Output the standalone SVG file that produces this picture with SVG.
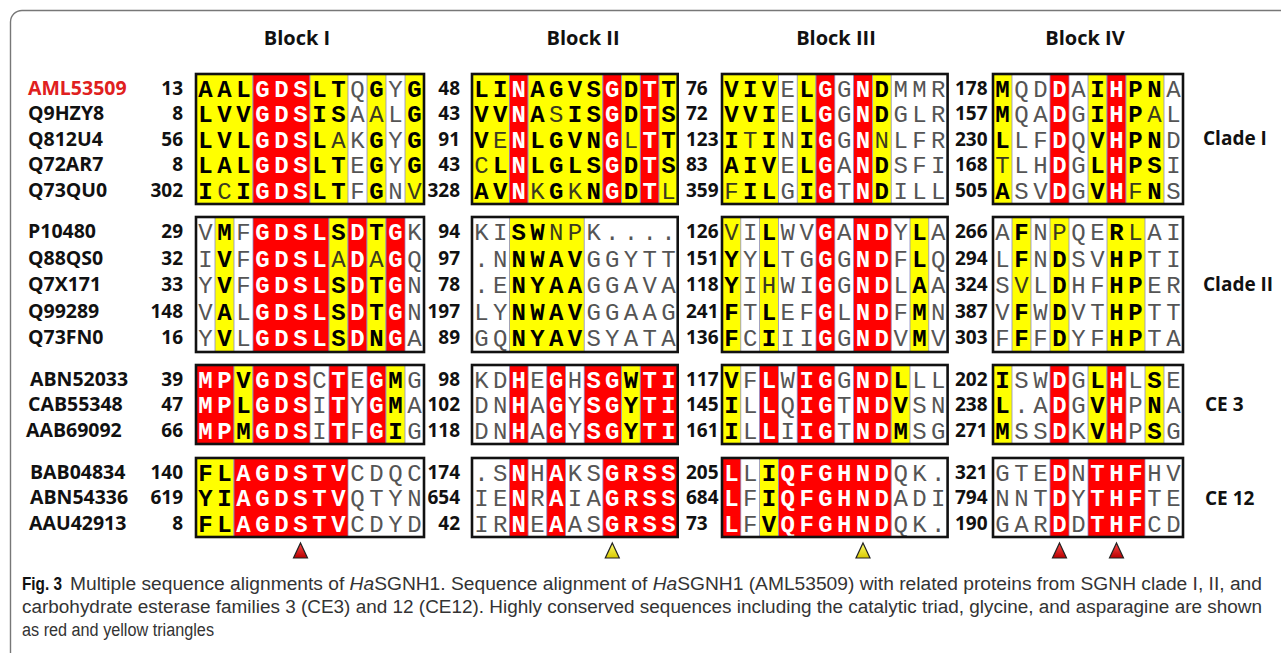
<svg xmlns="http://www.w3.org/2000/svg" width="1281" height="653" viewBox="0 0 1281 653">
<style>
  .sq{font-family:"Liberation Mono","DejaVu Sans Mono",monospace;font-size:24px;text-anchor:middle}
  .k{font-weight:700;fill:#000}
  .n{font-weight:400;fill:#3a3a20}
  .w{font-weight:700;fill:#fff}
  .g{font-weight:400;fill:#555}
  .lbl{font-family:"Open Sans","Liberation Sans",sans-serif;font-weight:700;font-size:19px;fill:#111}
  .nm{font-size:19.5px}
  .end{text-anchor:end}
  .hd{font-family:"Open Sans","Liberation Sans",sans-serif;font-weight:700;font-size:20px;fill:#111;text-anchor:middle}
  .cl{font-family:"Open Sans","Liberation Sans",sans-serif;font-weight:700;font-size:19px;fill:#111}
  .Y{fill:#ffff00;stroke:#8c8cc8;stroke-width:.8}
  .R{fill:#ff0000;stroke:#8c8cc8;stroke-width:.8}
  .bg{fill:#fff}
  .frame{fill:none;stroke:#111;stroke-width:2.6}
  .cap{font-family:"Liberation Sans","Open Sans",sans-serif;font-size:18px;fill:#333}
  .tr{stroke:#222;stroke-width:1.2}
</style>
<defs>
  <linearGradient id="gR" x1="0" y1="0" x2="0" y2="1"><stop offset="0" stop-color="#ff4a4a"/><stop offset="1" stop-color="#b80000"/></linearGradient>
  <linearGradient id="gY" x1="0" y1="0" x2="0" y2="1"><stop offset="0" stop-color="#ffff70"/><stop offset="1" stop-color="#d8c800"/></linearGradient>
  <path id="tri" d="M0,-8 L7,7 L-7,7 Z"/>
</defs>
<rect width="1281" height="653" fill="#fff"/>
<!-- panel outline: rounded top-left corner, open to the right and bottom -->
<path d="M10.5,653 V22 A11.5,11.5 0 0 1 22,10.5 H1281" fill="none" stroke="#777" stroke-width="1.4"/>

<!-- column headers -->
<g id="headers">
  <text class="hd" x="297" y="45">Block I</text>
  <text class="hd" x="583" y="45">Block II</text>
  <text class="hd" x="836" y="45">Block III</text>
  <text class="hd" x="1085" y="45">Block IV</text>
</g>

<!-- sequence names -->
<g id="names" class="lbl nm">
  <text x="28" y="94.5" style="fill:#e02020">AML53509</text>
  <text x="28" y="120">Q9HZY8</text>
  <text x="28" y="145.5">Q812U4</text>
  <text x="28" y="171">Q72AR7</text>
  <text x="28" y="196.5">Q73QU0</text>
  <text x="28" y="238">P10480</text>
  <text x="28" y="264.5">Q88QS0</text>
  <text x="28" y="291">Q7X171</text>
  <text x="28" y="317.5">Q99289</text>
  <text x="28" y="344">Q73FN0</text>
  <text x="30" y="385.5">ABN52033</text>
  <text x="28" y="411">CAB55348</text>
  <text x="26" y="436.5">AAB69092</text>
  <text x="30" y="478.5">BAB04834</text>
  <text x="30" y="504">ABN54336</text>
  <text x="29" y="529.5">AAU42913</text>
</g>

<!-- group labels -->
<g id="groups" class="cl">
  <text x="1203" y="145">Clade I</text>
  <text x="1203" y="291">Clade II</text>
  <text x="1205" y="411">CE 3</text>
  <text x="1205" y="505">CE 12</text>
</g>

<!-- Block I -->
<g id="block1">
  <g id="b1-clade1">
    <rect class="bg" x="196" y="74" width="228" height="130"/>
    <rect class="Y" x="196" y="74" width="57" height="130"/>
    <rect class="R" x="253" y="74" width="57" height="130"/>
    <rect class="Y" x="310" y="74" width="38" height="130"/>
    <rect class="Y" x="367" y="74" width="19" height="130"/>
    <rect class="Y" x="405" y="74" width="19" height="130"/>
    <g class="sq">
      <text x="205.5 224.5 243.5 262.5 281.5 300.5 319.5 338.5 357.5 376.5 395.5 414.5" y="96.5"><tspan class="k">AAL</tspan><tspan class="w">GDS</tspan><tspan class="k">LT</tspan><tspan class="g">Q</tspan><tspan class="k">G</tspan><tspan class="g">Y</tspan><tspan class="k">G</tspan></text>
      <text x="205.5 224.5 243.5 262.5 281.5 300.5 319.5 338.5 357.5 376.5 395.5 414.5" y="122"><tspan class="k">LVV</tspan><tspan class="w">GDS</tspan><tspan class="k">IS</tspan><tspan class="g">A</tspan><tspan class="n">A</tspan><tspan class="g">L</tspan><tspan class="k">G</tspan></text>
      <text x="205.5 224.5 243.5 262.5 281.5 300.5 319.5 338.5 357.5 376.5 395.5 414.5" y="147.5"><tspan class="k">LVL</tspan><tspan class="w">GDS</tspan><tspan class="k">L</tspan><tspan class="n">A</tspan><tspan class="g">K</tspan><tspan class="k">G</tspan><tspan class="g">Y</tspan><tspan class="k">G</tspan></text>
      <text x="205.5 224.5 243.5 262.5 281.5 300.5 319.5 338.5 357.5 376.5 395.5 414.5" y="173"><tspan class="k">LAL</tspan><tspan class="w">GDS</tspan><tspan class="k">LT</tspan><tspan class="g">E</tspan><tspan class="k">G</tspan><tspan class="g">Y</tspan><tspan class="k">G</tspan></text>
      <text x="205.5 224.5 243.5 262.5 281.5 300.5 319.5 338.5 357.5 376.5 395.5 414.5" y="198.5"><tspan class="k">I</tspan><tspan class="n">C</tspan><tspan class="k">I</tspan><tspan class="w">GDS</tspan><tspan class="k">LT</tspan><tspan class="g">F</tspan><tspan class="k">G</tspan><tspan class="g">N</tspan><tspan class="n">V</tspan></text>
    </g>
    <rect class="frame" x="196" y="74" width="228" height="130"/>
  </g>
  <g id="b1-clade2">
    <rect class="bg" x="196" y="217" width="228" height="135"/>
    <rect class="Y" x="215" y="217" width="19" height="135"/>
    <rect class="R" x="253" y="217" width="76" height="135"/>
    <rect class="Y" x="329" y="217" width="19" height="135"/>
    <rect class="R" x="348" y="217" width="19" height="135"/>
    <rect class="Y" x="367" y="217" width="19" height="135"/>
    <rect class="R" x="386" y="217" width="19" height="135"/>
    <g class="sq">
      <text x="205.5 224.5 243.5 262.5 281.5 300.5 319.5 338.5 357.5 376.5 395.5 414.5" y="240"><tspan class="g">V</tspan><tspan class="k">M</tspan><tspan class="g">F</tspan><tspan class="w">GDSL</tspan><tspan class="k">S</tspan><tspan class="w">D</tspan><tspan class="k">T</tspan><tspan class="w">G</tspan><tspan class="g">K</tspan></text>
      <text x="205.5 224.5 243.5 262.5 281.5 300.5 319.5 338.5 357.5 376.5 395.5 414.5" y="266.5"><tspan class="g">I</tspan><tspan class="k">V</tspan><tspan class="g">F</tspan><tspan class="w">GDSL</tspan><tspan class="n">A</tspan><tspan class="w">D</tspan><tspan class="n">A</tspan><tspan class="w">G</tspan><tspan class="g">Q</tspan></text>
      <text x="205.5 224.5 243.5 262.5 281.5 300.5 319.5 338.5 357.5 376.5 395.5 414.5" y="293"><tspan class="g">Y</tspan><tspan class="k">V</tspan><tspan class="g">F</tspan><tspan class="w">GDSL</tspan><tspan class="k">S</tspan><tspan class="w">D</tspan><tspan class="k">T</tspan><tspan class="w">G</tspan><tspan class="g">N</tspan></text>
      <text x="205.5 224.5 243.5 262.5 281.5 300.5 319.5 338.5 357.5 376.5 395.5 414.5" y="319.5"><tspan class="g">V</tspan><tspan class="k">A</tspan><tspan class="g">L</tspan><tspan class="w">GDSL</tspan><tspan class="k">S</tspan><tspan class="w">D</tspan><tspan class="k">T</tspan><tspan class="w">G</tspan><tspan class="g">N</tspan></text>
      <text x="205.5 224.5 243.5 262.5 281.5 300.5 319.5 338.5 357.5 376.5 395.5 414.5" y="346"><tspan class="g">Y</tspan><tspan class="k">V</tspan><tspan class="g">L</tspan><tspan class="w">GDSL</tspan><tspan class="k">S</tspan><tspan class="w">D</tspan><tspan class="k">N</tspan><tspan class="w">G</tspan><tspan class="g">A</tspan></text>
    </g>
    <rect class="frame" x="196" y="217" width="228" height="135"/>
  </g>
  <g id="b1-ce3">
    <rect class="bg" x="196" y="365" width="228" height="79"/>
    <rect class="R" x="196" y="365" width="38" height="79"/>
    <rect class="Y" x="234" y="365" width="19" height="79"/>
    <rect class="R" x="253" y="365" width="57" height="79"/>
    <rect class="R" x="329" y="365" width="19" height="79"/>
    <rect class="R" x="367" y="365" width="19" height="79"/>
    <rect class="Y" x="386" y="365" width="19" height="79"/>
    <g class="sq">
      <text x="205.5 224.5 243.5 262.5 281.5 300.5 319.5 338.5 357.5 376.5 395.5 414.5" y="387.5"><tspan class="w">MP</tspan><tspan class="k">V</tspan><tspan class="w">GDS</tspan><tspan class="g">C</tspan><tspan class="w">T</tspan><tspan class="g">E</tspan><tspan class="w">G</tspan><tspan class="k">M</tspan><tspan class="g">G</tspan></text>
      <text x="205.5 224.5 243.5 262.5 281.5 300.5 319.5 338.5 357.5 376.5 395.5 414.5" y="413"><tspan class="w">MP</tspan><tspan class="k">L</tspan><tspan class="w">GDS</tspan><tspan class="g">I</tspan><tspan class="w">T</tspan><tspan class="g">Y</tspan><tspan class="w">G</tspan><tspan class="k">M</tspan><tspan class="g">A</tspan></text>
      <text x="205.5 224.5 243.5 262.5 281.5 300.5 319.5 338.5 357.5 376.5 395.5 414.5" y="438.5"><tspan class="w">MP</tspan><tspan class="k">M</tspan><tspan class="w">GDS</tspan><tspan class="g">I</tspan><tspan class="w">T</tspan><tspan class="g">F</tspan><tspan class="w">G</tspan><tspan class="k">I</tspan><tspan class="g">G</tspan></text>
    </g>
    <rect class="frame" x="196" y="365" width="228" height="79"/>
  </g>
  <g id="b1-ce12">
    <rect class="bg" x="196" y="458" width="228" height="79"/>
    <rect class="Y" x="196" y="458" width="38" height="79"/>
    <rect class="R" x="234" y="458" width="114" height="79"/>
    <g class="sq">
      <text x="205.5 224.5 243.5 262.5 281.5 300.5 319.5 338.5 357.5 376.5 395.5 414.5" y="480.5"><tspan class="k">FL</tspan><tspan class="w">AGDSTV</tspan><tspan class="g">CDQC</tspan></text>
      <text x="205.5 224.5 243.5 262.5 281.5 300.5 319.5 338.5 357.5 376.5 395.5 414.5" y="506"><tspan class="k">YI</tspan><tspan class="w">AGDSTV</tspan><tspan class="g">QTYN</tspan></text>
      <text x="205.5 224.5 243.5 262.5 281.5 300.5 319.5 338.5 357.5 376.5 395.5 414.5" y="531.5"><tspan class="k">FL</tspan><tspan class="w">AGDSTV</tspan><tspan class="g">CDYD</tspan></text>
    </g>
    <rect class="frame" x="196" y="458" width="228" height="79"/>
  </g>
  <g class="lbl end">
    <text x="183" y="94.5">13</text><text x="183" y="120">8</text><text x="183" y="145.5">56</text><text x="183" y="171">8</text><text x="183" y="196.5">302</text>
    <text x="183" y="238">29</text><text x="183" y="264.5">32</text><text x="183" y="291">33</text><text x="183" y="317.5">148</text><text x="183" y="344">16</text>
    <text x="183" y="385.5">39</text><text x="183" y="411">47</text><text x="183" y="436.5">66</text>
    <text x="183" y="478.5">140</text><text x="183" y="504">619</text><text x="183" y="529.5">8</text>
  </g>
</g>

<!-- Block II -->
<g id="block2">
  <g id="b2-clade1">
    <rect class="bg" x="472" y="74" width="205.7" height="130"/>
    <rect class="Y" x="472" y="74" width="37.4" height="130"/>
    <rect class="R" x="509.4" y="74" width="18.7" height="130"/>
    <rect class="Y" x="528.1" y="74" width="74.8" height="130"/>
    <rect class="R" x="602.9" y="74" width="18.7" height="130"/>
    <rect class="Y" x="621.6" y="74" width="18.7" height="130"/>
    <rect class="R" x="640.3" y="74" width="18.7" height="130"/>
    <rect class="Y" x="659" y="74" width="18.7" height="130"/>
    <g class="sq">
      <text x="481.4 500.1 518.8 537.5 556.2 574.9 593.6 612.3 631 649.7 668.4" y="96.5"><tspan class="k">LI</tspan><tspan class="w">N</tspan><tspan class="k">AGVS</tspan><tspan class="w">G</tspan><tspan class="k">D</tspan><tspan class="w">T</tspan><tspan class="k">T</tspan></text>
      <text x="481.4 500.1 518.8 537.5 556.2 574.9 593.6 612.3 631 649.7 668.4" y="122"><tspan class="k">VV</tspan><tspan class="w">N</tspan><tspan class="k">A</tspan><tspan class="n">S</tspan><tspan class="k">IS</tspan><tspan class="w">G</tspan><tspan class="k">D</tspan><tspan class="w">T</tspan><tspan class="k">S</tspan></text>
      <text x="481.4 500.1 518.8 537.5 556.2 574.9 593.6 612.3 631 649.7 668.4" y="147.5"><tspan class="k">V</tspan><tspan class="n">E</tspan><tspan class="w">N</tspan><tspan class="k">LGVN</tspan><tspan class="w">G</tspan><tspan class="n">L</tspan><tspan class="w">T</tspan><tspan class="k">T</tspan></text>
      <text x="481.4 500.1 518.8 537.5 556.2 574.9 593.6 612.3 631 649.7 668.4" y="173"><tspan class="n">C</tspan><tspan class="k">L</tspan><tspan class="w">N</tspan><tspan class="k">LGLS</tspan><tspan class="w">G</tspan><tspan class="k">D</tspan><tspan class="w">T</tspan><tspan class="k">S</tspan></text>
      <text x="481.4 500.1 518.8 537.5 556.2 574.9 593.6 612.3 631 649.7 668.4" y="198.5"><tspan class="k">AV</tspan><tspan class="w">N</tspan><tspan class="n">K</tspan><tspan class="k">G</tspan><tspan class="n">K</tspan><tspan class="k">N</tspan><tspan class="w">G</tspan><tspan class="k">D</tspan><tspan class="w">T</tspan><tspan class="n">L</tspan></text>
    </g>
    <rect class="frame" x="472" y="74" width="205.7" height="130"/>
  </g>
  <g id="b2-clade2">
    <rect class="bg" x="472" y="217" width="205.7" height="135"/>
    <rect class="Y" x="509.4" y="217" width="74.8" height="135"/>
    <g class="sq">
      <text x="481.4 500.1 518.8 537.5 556.2 574.9 593.6 612.3 631 649.7 668.4" y="240"><tspan class="g">KI</tspan><tspan class="k">SW</tspan><tspan class="n">NP</tspan><tspan class="g">K....</tspan></text>
      <text x="481.4 500.1 518.8 537.5 556.2 574.9 593.6 612.3 631 649.7 668.4" y="266.5"><tspan class="g">.N</tspan><tspan class="k">NWAV</tspan><tspan class="g">GGYTT</tspan></text>
      <text x="481.4 500.1 518.8 537.5 556.2 574.9 593.6 612.3 631 649.7 668.4" y="293"><tspan class="g">.E</tspan><tspan class="k">NYAA</tspan><tspan class="g">GGAVA</tspan></text>
      <text x="481.4 500.1 518.8 537.5 556.2 574.9 593.6 612.3 631 649.7 668.4" y="319.5"><tspan class="g">LY</tspan><tspan class="k">NWAV</tspan><tspan class="g">GGAAG</tspan></text>
      <text x="481.4 500.1 518.8 537.5 556.2 574.9 593.6 612.3 631 649.7 668.4" y="346"><tspan class="g">GQ</tspan><tspan class="k">NYAV</tspan><tspan class="g">SYATA</tspan></text>
    </g>
    <rect class="frame" x="472" y="217" width="205.7" height="135"/>
  </g>
  <g id="b2-ce3">
    <rect class="bg" x="472" y="365" width="205.7" height="79"/>
    <rect class="R" x="509.4" y="365" width="18.7" height="79"/>
    <rect class="R" x="546.8" y="365" width="18.7" height="79"/>
    <rect class="R" x="584.2" y="365" width="37.4" height="79"/>
    <rect class="Y" x="621.6" y="365" width="18.7" height="79"/>
    <rect class="R" x="640.3" y="365" width="37.4" height="79"/>
    <g class="sq">
      <text x="481.4 500.1 518.8 537.5 556.2 574.9 593.6 612.3 631 649.7 668.4" y="387.5"><tspan class="g">KD</tspan><tspan class="w">H</tspan><tspan class="g">E</tspan><tspan class="w">G</tspan><tspan class="g">H</tspan><tspan class="w">SG</tspan><tspan class="k">W</tspan><tspan class="w">TI</tspan></text>
      <text x="481.4 500.1 518.8 537.5 556.2 574.9 593.6 612.3 631 649.7 668.4" y="413"><tspan class="g">DN</tspan><tspan class="w">H</tspan><tspan class="g">A</tspan><tspan class="w">G</tspan><tspan class="g">Y</tspan><tspan class="w">SG</tspan><tspan class="k">Y</tspan><tspan class="w">TI</tspan></text>
      <text x="481.4 500.1 518.8 537.5 556.2 574.9 593.6 612.3 631 649.7 668.4" y="438.5"><tspan class="g">DN</tspan><tspan class="w">H</tspan><tspan class="g">A</tspan><tspan class="w">G</tspan><tspan class="g">Y</tspan><tspan class="w">SG</tspan><tspan class="k">Y</tspan><tspan class="w">TI</tspan></text>
    </g>
    <rect class="frame" x="472" y="365" width="205.7" height="79"/>
  </g>
  <g id="b2-ce12">
    <rect class="bg" x="472" y="458" width="205.7" height="79"/>
    <rect class="R" x="509.4" y="458" width="18.7" height="79"/>
    <rect class="R" x="546.8" y="458" width="18.7" height="79"/>
    <rect class="R" x="602.9" y="458" width="74.8" height="79"/>
    <g class="sq">
      <text x="481.4 500.1 518.8 537.5 556.2 574.9 593.6 612.3 631 649.7 668.4" y="480.5"><tspan class="g">.S</tspan><tspan class="w">N</tspan><tspan class="g">H</tspan><tspan class="w">A</tspan><tspan class="g">KS</tspan><tspan class="w">GRSS</tspan></text>
      <text x="481.4 500.1 518.8 537.5 556.2 574.9 593.6 612.3 631 649.7 668.4" y="506"><tspan class="g">IE</tspan><tspan class="w">N</tspan><tspan class="g">R</tspan><tspan class="w">A</tspan><tspan class="g">IA</tspan><tspan class="w">GRSS</tspan></text>
      <text x="481.4 500.1 518.8 537.5 556.2 574.9 593.6 612.3 631 649.7 668.4" y="531.5"><tspan class="g">IR</tspan><tspan class="w">N</tspan><tspan class="g">E</tspan><tspan class="w">A</tspan><tspan class="g">AS</tspan><tspan class="w">GRSS</tspan></text>
    </g>
    <rect class="frame" x="472" y="458" width="205.7" height="79"/>
  </g>
  <g class="lbl end">
    <text x="460" y="94.5">48</text><text x="460" y="120">43</text><text x="460" y="145.5">91</text><text x="460" y="171">43</text><text x="460" y="196.5">328</text>
    <text x="460" y="238">94</text><text x="460" y="264.5">97</text><text x="460" y="291">78</text><text x="460" y="317.5">197</text><text x="460" y="344">89</text>
    <text x="460" y="385.5">98</text><text x="460" y="411">102</text><text x="460" y="436.5">118</text>
    <text x="460" y="478.5">174</text><text x="460" y="504">654</text><text x="460" y="529.5">42</text>
  </g>
</g>

<!-- Block III -->
<g id="block3">
  <g id="b3-clade1">
    <rect class="bg" x="722" y="74" width="225.6" height="130"/>
    <rect class="Y" x="722" y="74" width="56.4" height="130"/>
    <rect class="Y" x="797.2" y="74" width="18.8" height="130"/>
    <rect class="R" x="816" y="74" width="18.8" height="130"/>
    <rect class="R" x="853.6" y="74" width="18.8" height="130"/>
    <rect class="Y" x="872.4" y="74" width="18.8" height="130"/>
    <g class="sq">
      <text x="731.4 750.2 769 787.8 806.6 825.4 844.2 863 881.8 900.6 919.4 938.2" y="96.5"><tspan class="k">VIV</tspan><tspan class="g">E</tspan><tspan class="k">L</tspan><tspan class="w">G</tspan><tspan class="g">G</tspan><tspan class="w">N</tspan><tspan class="k">D</tspan><tspan class="g">MMR</tspan></text>
      <text x="731.4 750.2 769 787.8 806.6 825.4 844.2 863 881.8 900.6 919.4 938.2" y="122"><tspan class="k">VVI</tspan><tspan class="g">E</tspan><tspan class="k">L</tspan><tspan class="w">G</tspan><tspan class="g">G</tspan><tspan class="w">N</tspan><tspan class="k">D</tspan><tspan class="g">GLR</tspan></text>
      <text x="731.4 750.2 769 787.8 806.6 825.4 844.2 863 881.8 900.6 919.4 938.2" y="147.5"><tspan class="k">I</tspan><tspan class="n">T</tspan><tspan class="k">I</tspan><tspan class="g">N</tspan><tspan class="k">I</tspan><tspan class="w">G</tspan><tspan class="g">G</tspan><tspan class="w">N</tspan><tspan class="n">N</tspan><tspan class="g">LFR</tspan></text>
      <text x="731.4 750.2 769 787.8 806.6 825.4 844.2 863 881.8 900.6 919.4 938.2" y="173"><tspan class="k">AIV</tspan><tspan class="g">E</tspan><tspan class="k">L</tspan><tspan class="w">G</tspan><tspan class="g">A</tspan><tspan class="w">N</tspan><tspan class="k">D</tspan><tspan class="g">SFI</tspan></text>
      <text x="731.4 750.2 769 787.8 806.6 825.4 844.2 863 881.8 900.6 919.4 938.2" y="198.5"><tspan class="n">F</tspan><tspan class="k">IL</tspan><tspan class="g">G</tspan><tspan class="k">I</tspan><tspan class="w">G</tspan><tspan class="g">T</tspan><tspan class="w">N</tspan><tspan class="k">D</tspan><tspan class="g">ILL</tspan></text>
    </g>
    <rect class="frame" x="722" y="74" width="225.6" height="130"/>
  </g>
  <g id="b3-clade2">
    <rect class="bg" x="722" y="217" width="225.6" height="135"/>
    <rect class="Y" x="722" y="217" width="18.8" height="135"/>
    <rect class="Y" x="759.6" y="217" width="18.8" height="135"/>
    <rect class="R" x="816" y="217" width="18.8" height="135"/>
    <rect class="R" x="853.6" y="217" width="37.6" height="135"/>
    <rect class="Y" x="910" y="217" width="18.8" height="135"/>
    <g class="sq">
      <text x="731.4 750.2 769 787.8 806.6 825.4 844.2 863 881.8 900.6 919.4 938.2" y="240"><tspan class="n">V</tspan><tspan class="g">I</tspan><tspan class="k">L</tspan><tspan class="g">WV</tspan><tspan class="w">G</tspan><tspan class="g">A</tspan><tspan class="w">ND</tspan><tspan class="g">Y</tspan><tspan class="k">L</tspan><tspan class="g">A</tspan></text>
      <text x="731.4 750.2 769 787.8 806.6 825.4 844.2 863 881.8 900.6 919.4 938.2" y="266.5"><tspan class="k">Y</tspan><tspan class="g">Y</tspan><tspan class="k">L</tspan><tspan class="g">TG</tspan><tspan class="w">G</tspan><tspan class="g">G</tspan><tspan class="w">ND</tspan><tspan class="g">F</tspan><tspan class="k">L</tspan><tspan class="g">Q</tspan></text>
      <text x="731.4 750.2 769 787.8 806.6 825.4 844.2 863 881.8 900.6 919.4 938.2" y="293"><tspan class="k">Y</tspan><tspan class="g">I</tspan><tspan class="n">H</tspan><tspan class="g">WI</tspan><tspan class="w">G</tspan><tspan class="g">G</tspan><tspan class="w">ND</tspan><tspan class="g">L</tspan><tspan class="k">A</tspan><tspan class="g">A</tspan></text>
      <text x="731.4 750.2 769 787.8 806.6 825.4 844.2 863 881.8 900.6 919.4 938.2" y="319.5"><tspan class="k">F</tspan><tspan class="g">T</tspan><tspan class="k">L</tspan><tspan class="g">EF</tspan><tspan class="w">G</tspan><tspan class="g">L</tspan><tspan class="w">ND</tspan><tspan class="g">F</tspan><tspan class="k">M</tspan><tspan class="g">N</tspan></text>
      <text x="731.4 750.2 769 787.8 806.6 825.4 844.2 863 881.8 900.6 919.4 938.2" y="346"><tspan class="k">F</tspan><tspan class="g">C</tspan><tspan class="k">I</tspan><tspan class="g">II</tspan><tspan class="w">G</tspan><tspan class="g">G</tspan><tspan class="w">ND</tspan><tspan class="g">V</tspan><tspan class="k">M</tspan><tspan class="g">V</tspan></text>
    </g>
    <rect class="frame" x="722" y="217" width="225.6" height="135"/>
  </g>
  <g id="b3-ce3">
    <rect class="bg" x="722" y="365" width="225.6" height="79"/>
    <rect class="Y" x="722" y="365" width="18.8" height="79"/>
    <rect class="R" x="759.6" y="365" width="18.8" height="79"/>
    <rect class="R" x="797.2" y="365" width="37.6" height="79"/>
    <rect class="R" x="853.6" y="365" width="37.6" height="79"/>
    <rect class="Y" x="891.2" y="365" width="18.8" height="79"/>
    <g class="sq">
      <text x="731.4 750.2 769 787.8 806.6 825.4 844.2 863 881.8 900.6 919.4 938.2" y="387.5"><tspan class="k">V</tspan><tspan class="g">F</tspan><tspan class="w">L</tspan><tspan class="g">W</tspan><tspan class="w">IG</tspan><tspan class="g">G</tspan><tspan class="w">ND</tspan><tspan class="k">L</tspan><tspan class="g">LL</tspan></text>
      <text x="731.4 750.2 769 787.8 806.6 825.4 844.2 863 881.8 900.6 919.4 938.2" y="413"><tspan class="k">I</tspan><tspan class="g">L</tspan><tspan class="w">L</tspan><tspan class="g">Q</tspan><tspan class="w">IG</tspan><tspan class="g">T</tspan><tspan class="w">ND</tspan><tspan class="k">V</tspan><tspan class="g">SN</tspan></text>
      <text x="731.4 750.2 769 787.8 806.6 825.4 844.2 863 881.8 900.6 919.4 938.2" y="438.5"><tspan class="k">I</tspan><tspan class="g">L</tspan><tspan class="w">L</tspan><tspan class="g">I</tspan><tspan class="w">IG</tspan><tspan class="g">T</tspan><tspan class="w">ND</tspan><tspan class="k">M</tspan><tspan class="g">SG</tspan></text>
    </g>
    <rect class="frame" x="722" y="365" width="225.6" height="79"/>
  </g>
  <g id="b3-ce12">
    <rect class="bg" x="722" y="458" width="225.6" height="79"/>
    <rect class="R" x="722" y="458" width="18.8" height="79"/>
    <rect class="Y" x="759.6" y="458" width="18.8" height="79"/>
    <rect class="R" x="778.4" y="458" width="112.8" height="79"/>
    <g class="sq">
      <text x="731.4 750.2 769 787.8 806.6 825.4 844.2 863 881.8 900.6 919.4 938.2" y="480.5"><tspan class="w">L</tspan><tspan class="g">L</tspan><tspan class="k">I</tspan><tspan class="w">QFGHND</tspan><tspan class="g">QK.</tspan></text>
      <text x="731.4 750.2 769 787.8 806.6 825.4 844.2 863 881.8 900.6 919.4 938.2" y="506"><tspan class="w">L</tspan><tspan class="g">F</tspan><tspan class="k">I</tspan><tspan class="w">QFGHND</tspan><tspan class="g">ADI</tspan></text>
      <text x="731.4 750.2 769 787.8 806.6 825.4 844.2 863 881.8 900.6 919.4 938.2" y="531.5"><tspan class="w">L</tspan><tspan class="g">F</tspan><tspan class="k">V</tspan><tspan class="w">QFGHND</tspan><tspan class="g">QK.</tspan></text>
    </g>
    <rect class="frame" x="722" y="458" width="225.6" height="79"/>
  </g>
  <g class="lbl">
    <text x="686" y="94.5">76</text><text x="686" y="120">72</text><text x="686" y="145.5">123</text><text x="686" y="171">83</text><text x="686" y="196.5">359</text>
    <text x="686" y="238">126</text><text x="686" y="264.5">151</text><text x="686" y="291">118</text><text x="686" y="317.5">241</text><text x="686" y="344">136</text>
    <text x="686" y="385.5">117</text><text x="686" y="411">145</text><text x="686" y="436.5">161</text>
    <text x="686" y="478.5">205</text><text x="686" y="504">684</text><text x="686" y="529.5">73</text>
  </g>
</g>

<!-- Block IV -->
<g id="block4">
  <g id="b4-clade1">
    <rect class="bg" x="993" y="74" width="190" height="130"/>
    <rect class="Y" x="993" y="74" width="19" height="130"/>
    <rect class="R" x="1050" y="74" width="19" height="130"/>
    <rect class="Y" x="1088" y="74" width="19" height="130"/>
    <rect class="R" x="1107" y="74" width="19" height="130"/>
    <rect class="Y" x="1126" y="74" width="38" height="130"/>
    <g class="sq">
      <text x="1002.5 1021.5 1040.5 1059.5 1078.5 1097.5 1116.5 1135.5 1154.5 1173.5" y="96.5"><tspan class="k">M</tspan><tspan class="g">QD</tspan><tspan class="w">D</tspan><tspan class="g">A</tspan><tspan class="k">I</tspan><tspan class="w">H</tspan><tspan class="k">PN</tspan><tspan class="g">A</tspan></text>
      <text x="1002.5 1021.5 1040.5 1059.5 1078.5 1097.5 1116.5 1135.5 1154.5 1173.5" y="122"><tspan class="k">M</tspan><tspan class="g">QA</tspan><tspan class="w">D</tspan><tspan class="g">G</tspan><tspan class="k">I</tspan><tspan class="w">H</tspan><tspan class="k">P</tspan><tspan class="n">A</tspan><tspan class="g">L</tspan></text>
      <text x="1002.5 1021.5 1040.5 1059.5 1078.5 1097.5 1116.5 1135.5 1154.5 1173.5" y="147.5"><tspan class="k">L</tspan><tspan class="g">LF</tspan><tspan class="w">D</tspan><tspan class="g">Q</tspan><tspan class="k">V</tspan><tspan class="w">H</tspan><tspan class="k">PN</tspan><tspan class="g">D</tspan></text>
      <text x="1002.5 1021.5 1040.5 1059.5 1078.5 1097.5 1116.5 1135.5 1154.5 1173.5" y="173"><tspan class="n">T</tspan><tspan class="g">LH</tspan><tspan class="w">D</tspan><tspan class="g">G</tspan><tspan class="k">L</tspan><tspan class="w">H</tspan><tspan class="k">PS</tspan><tspan class="g">I</tspan></text>
      <text x="1002.5 1021.5 1040.5 1059.5 1078.5 1097.5 1116.5 1135.5 1154.5 1173.5" y="198.5"><tspan class="k">A</tspan><tspan class="g">SV</tspan><tspan class="w">D</tspan><tspan class="g">G</tspan><tspan class="k">V</tspan><tspan class="w">H</tspan><tspan class="n">F</tspan><tspan class="k">N</tspan><tspan class="g">S</tspan></text>
    </g>
    <rect class="frame" x="993" y="74" width="190" height="130"/>
  </g>
  <g id="b4-clade2">
    <rect class="bg" x="993" y="217" width="190" height="135"/>
    <rect class="Y" x="1012" y="217" width="19" height="135"/>
    <rect class="Y" x="1050" y="217" width="19" height="135"/>
    <rect class="Y" x="1107" y="217" width="38" height="135"/>
    <g class="sq">
      <text x="1002.5 1021.5 1040.5 1059.5 1078.5 1097.5 1116.5 1135.5 1154.5 1173.5" y="240"><tspan class="g">A</tspan><tspan class="k">F</tspan><tspan class="g">N</tspan><tspan class="n">P</tspan><tspan class="g">QE</tspan><tspan class="k">R</tspan><tspan class="n">L</tspan><tspan class="g">AI</tspan></text>
      <text x="1002.5 1021.5 1040.5 1059.5 1078.5 1097.5 1116.5 1135.5 1154.5 1173.5" y="266.5"><tspan class="g">L</tspan><tspan class="k">F</tspan><tspan class="g">N</tspan><tspan class="k">D</tspan><tspan class="g">SV</tspan><tspan class="k">HP</tspan><tspan class="g">TI</tspan></text>
      <text x="1002.5 1021.5 1040.5 1059.5 1078.5 1097.5 1116.5 1135.5 1154.5 1173.5" y="293"><tspan class="g">S</tspan><tspan class="n">V</tspan><tspan class="g">L</tspan><tspan class="k">D</tspan><tspan class="g">HF</tspan><tspan class="k">HP</tspan><tspan class="g">ER</tspan></text>
      <text x="1002.5 1021.5 1040.5 1059.5 1078.5 1097.5 1116.5 1135.5 1154.5 1173.5" y="319.5"><tspan class="g">V</tspan><tspan class="k">F</tspan><tspan class="g">W</tspan><tspan class="k">D</tspan><tspan class="g">VT</tspan><tspan class="k">HP</tspan><tspan class="g">TT</tspan></text>
      <text x="1002.5 1021.5 1040.5 1059.5 1078.5 1097.5 1116.5 1135.5 1154.5 1173.5" y="346"><tspan class="g">F</tspan><tspan class="k">F</tspan><tspan class="g">F</tspan><tspan class="k">D</tspan><tspan class="g">YF</tspan><tspan class="k">HP</tspan><tspan class="g">TA</tspan></text>
    </g>
    <rect class="frame" x="993" y="217" width="190" height="135"/>
  </g>
  <g id="b4-ce3">
    <rect class="bg" x="993" y="365" width="190" height="79"/>
    <rect class="Y" x="993" y="365" width="19" height="79"/>
    <rect class="R" x="1050" y="365" width="19" height="79"/>
    <rect class="Y" x="1088" y="365" width="19" height="79"/>
    <rect class="R" x="1107" y="365" width="19" height="79"/>
    <rect class="Y" x="1145" y="365" width="19" height="79"/>
    <g class="sq">
      <text x="1002.5 1021.5 1040.5 1059.5 1078.5 1097.5 1116.5 1135.5 1154.5 1173.5" y="387.5"><tspan class="k">I</tspan><tspan class="g">SW</tspan><tspan class="w">D</tspan><tspan class="g">G</tspan><tspan class="k">L</tspan><tspan class="w">H</tspan><tspan class="g">L</tspan><tspan class="k">S</tspan><tspan class="g">E</tspan></text>
      <text x="1002.5 1021.5 1040.5 1059.5 1078.5 1097.5 1116.5 1135.5 1154.5 1173.5" y="413"><tspan class="k">L</tspan><tspan class="g">.A</tspan><tspan class="w">D</tspan><tspan class="g">G</tspan><tspan class="k">V</tspan><tspan class="w">H</tspan><tspan class="g">P</tspan><tspan class="k">N</tspan><tspan class="g">A</tspan></text>
      <text x="1002.5 1021.5 1040.5 1059.5 1078.5 1097.5 1116.5 1135.5 1154.5 1173.5" y="438.5"><tspan class="k">M</tspan><tspan class="g">SS</tspan><tspan class="w">D</tspan><tspan class="g">K</tspan><tspan class="k">V</tspan><tspan class="w">H</tspan><tspan class="g">P</tspan><tspan class="k">S</tspan><tspan class="g">G</tspan></text>
    </g>
    <rect class="frame" x="993" y="365" width="190" height="79"/>
  </g>
  <g id="b4-ce12">
    <rect class="bg" x="993" y="458" width="190" height="79"/>
    <rect class="R" x="1050" y="458" width="19" height="79"/>
    <rect class="R" x="1088" y="458" width="57" height="79"/>
    <g class="sq">
      <text x="1002.5 1021.5 1040.5 1059.5 1078.5 1097.5 1116.5 1135.5 1154.5 1173.5" y="480.5"><tspan class="g">GTE</tspan><tspan class="w">D</tspan><tspan class="g">N</tspan><tspan class="w">THF</tspan><tspan class="g">HV</tspan></text>
      <text x="1002.5 1021.5 1040.5 1059.5 1078.5 1097.5 1116.5 1135.5 1154.5 1173.5" y="506"><tspan class="g">NNT</tspan><tspan class="w">D</tspan><tspan class="g">Y</tspan><tspan class="w">THF</tspan><tspan class="g">TE</tspan></text>
      <text x="1002.5 1021.5 1040.5 1059.5 1078.5 1097.5 1116.5 1135.5 1154.5 1173.5" y="531.5"><tspan class="g">GAR</tspan><tspan class="w">D</tspan><tspan class="g">D</tspan><tspan class="w">THF</tspan><tspan class="g">CD</tspan></text>
    </g>
    <rect class="frame" x="993" y="458" width="190" height="79"/>
  </g>
  <g class="lbl">
    <text x="955" y="94.5">178</text><text x="955" y="120">157</text><text x="955" y="145.5">230</text><text x="955" y="171">168</text><text x="955" y="196.5">505</text>
    <text x="955" y="238">266</text><text x="955" y="264.5">294</text><text x="955" y="291">324</text><text x="955" y="317.5">387</text><text x="955" y="344">303</text>
    <text x="955" y="385.5">202</text><text x="955" y="411">238</text><text x="955" y="436.5">271</text>
    <text x="955" y="478.5">321</text><text x="955" y="504">794</text><text x="955" y="529.5">190</text>
  </g>
</g>

<!-- conserved-site markers -->
<g id="markers">
  <use href="#tri" class="tr" fill="url(#gR)" x="300.5" y="551"/>
  <use href="#tri" class="tr" fill="url(#gY)" x="612.3" y="551"/>
  <use href="#tri" class="tr" fill="url(#gY)" x="863" y="551"/>
  <use href="#tri" class="tr" fill="url(#gR)" x="1059.5" y="551"/>
  <use href="#tri" class="tr" fill="url(#gR)" x="1116.5" y="551"/>
</g>

<!-- caption -->
<g id="caption" class="cap">
  <text x="22" y="590" font-weight="700" style="fill:#111" textLength="40" lengthAdjust="spacingAndGlyphs">Fig. 3</text>
  <text x="70" y="590" textLength="1192" lengthAdjust="spacingAndGlyphs">Multiple sequence alignments of <tspan font-style="italic">Ha</tspan>SGNH1. Sequence alignment of <tspan font-style="italic">Ha</tspan>SGNH1 (AML53509) with related proteins from SGNH clade I, II, and</text>
  <text x="22" y="613" textLength="1240" lengthAdjust="spacingAndGlyphs">carbohydrate esterase families 3 (CE3) and 12 (CE12). Highly conserved sequences including the catalytic triad, glycine, and asparagine are shown</text>
  <text x="22" y="636" textLength="192" lengthAdjust="spacingAndGlyphs">as red and yellow triangles</text>
</g>
</svg>
